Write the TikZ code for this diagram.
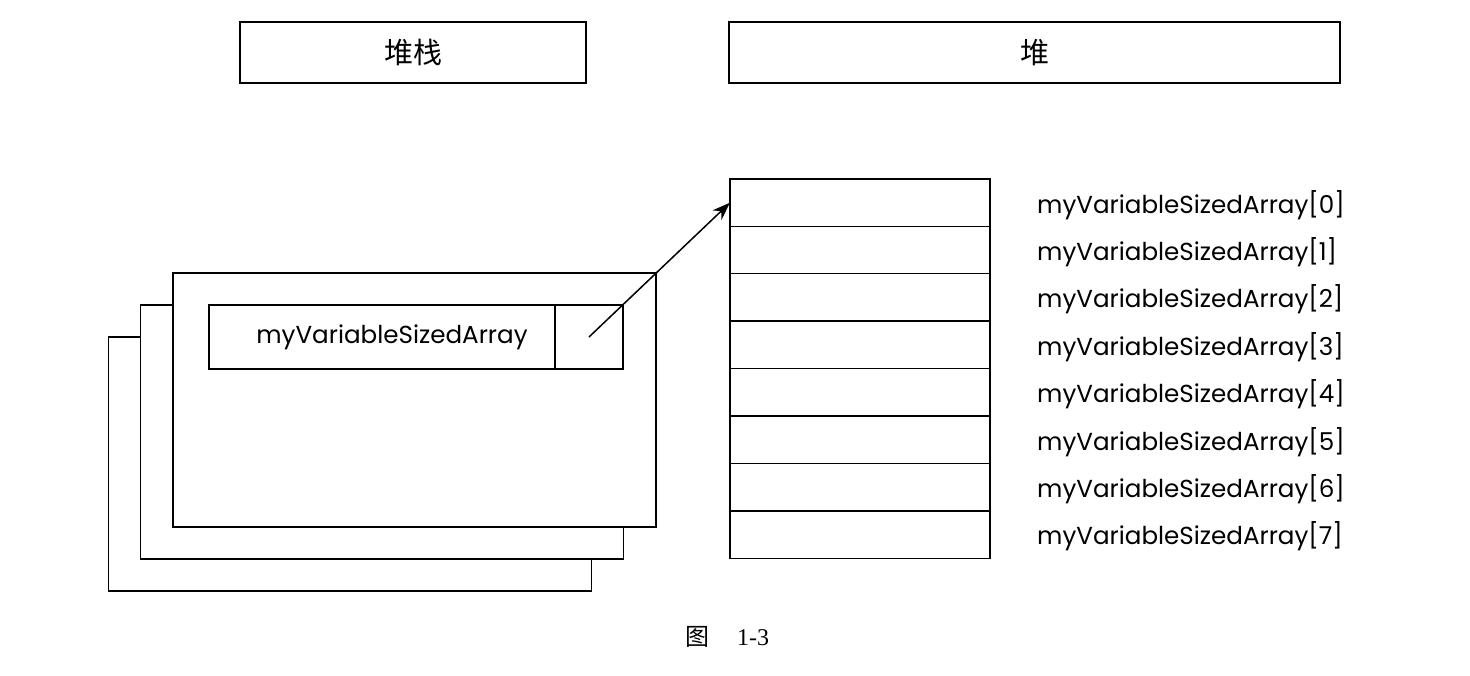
\documentclass[tikz,border=0pt]{standalone}
\usepackage{fontspec}
\setmainfont{Liberation Serif}
\newfontfamily\cjk{Noto Sans CJK SC}
\newfontfamily\labfont{Poppins}
\usetikzlibrary{arrows.meta, positioning}

\begin{document}
\begin{tikzpicture}[x=1pt, y=-1pt,
        box/.style={rectangle, draw=black, line width=1.4pt, inner sep=0pt, outer sep=0pt},
        head/.style={box, minimum height=61pt, font=\cjk\fontsize{29}{32}\selectfont},
        frame/.style={box, fill=white, minimum width=483pt, minimum height=254pt},
        cell/.style={box, minimum width=260pt, minimum height=47.4pt},
        lbl/.style={font=\labfont\fontsize{24.6}{28}\selectfont, inner sep=0pt},
        ptr/.style={-{Stealth[length=18pt, width=13pt]}, line width=1.5pt},
    ]
        \useasboundingbox (0,0) rectangle (1470,676);
        \node[head, minimum width=346pt] (stack) at (413,52.5) {堆栈};
        \node[head, minimum width=611pt] (heap) at (1034.5,52.5) {堆};
        % stack frames, back to front
        \node[frame] (frame3) at (350,464) {};
        \node[frame] (frame2) at (382,432) {};
        \node[frame] (frame1) at (414.5,400) {};
        \node[box, lbl, minimum width=346pt, minimum height=64pt] (var) at (382,337) {\hspace*{20pt}myVariableSizedArray};
        \node[box, minimum width=68pt, minimum height=64pt, right=0pt of var] (ptr) {};
        % heap array
        \foreach \i in {0,...,7} {
            \node[cell] (cell\i) at (860,202.7+47.4*\i) {};
            \node[lbl, anchor=west, right=47pt of cell\i, yshift=-2pt] (elem\i) {myVariableSizedArray[\i]};
        }
        \draw[ptr] (ptr.center) -- (cell0.west);
        \node[font=\fontsize{24}{26}\selectfont] (caption) at (727,637) {{\cjk 图}\hspace{28pt}1-3};
    \end{tikzpicture}
\end{document}
